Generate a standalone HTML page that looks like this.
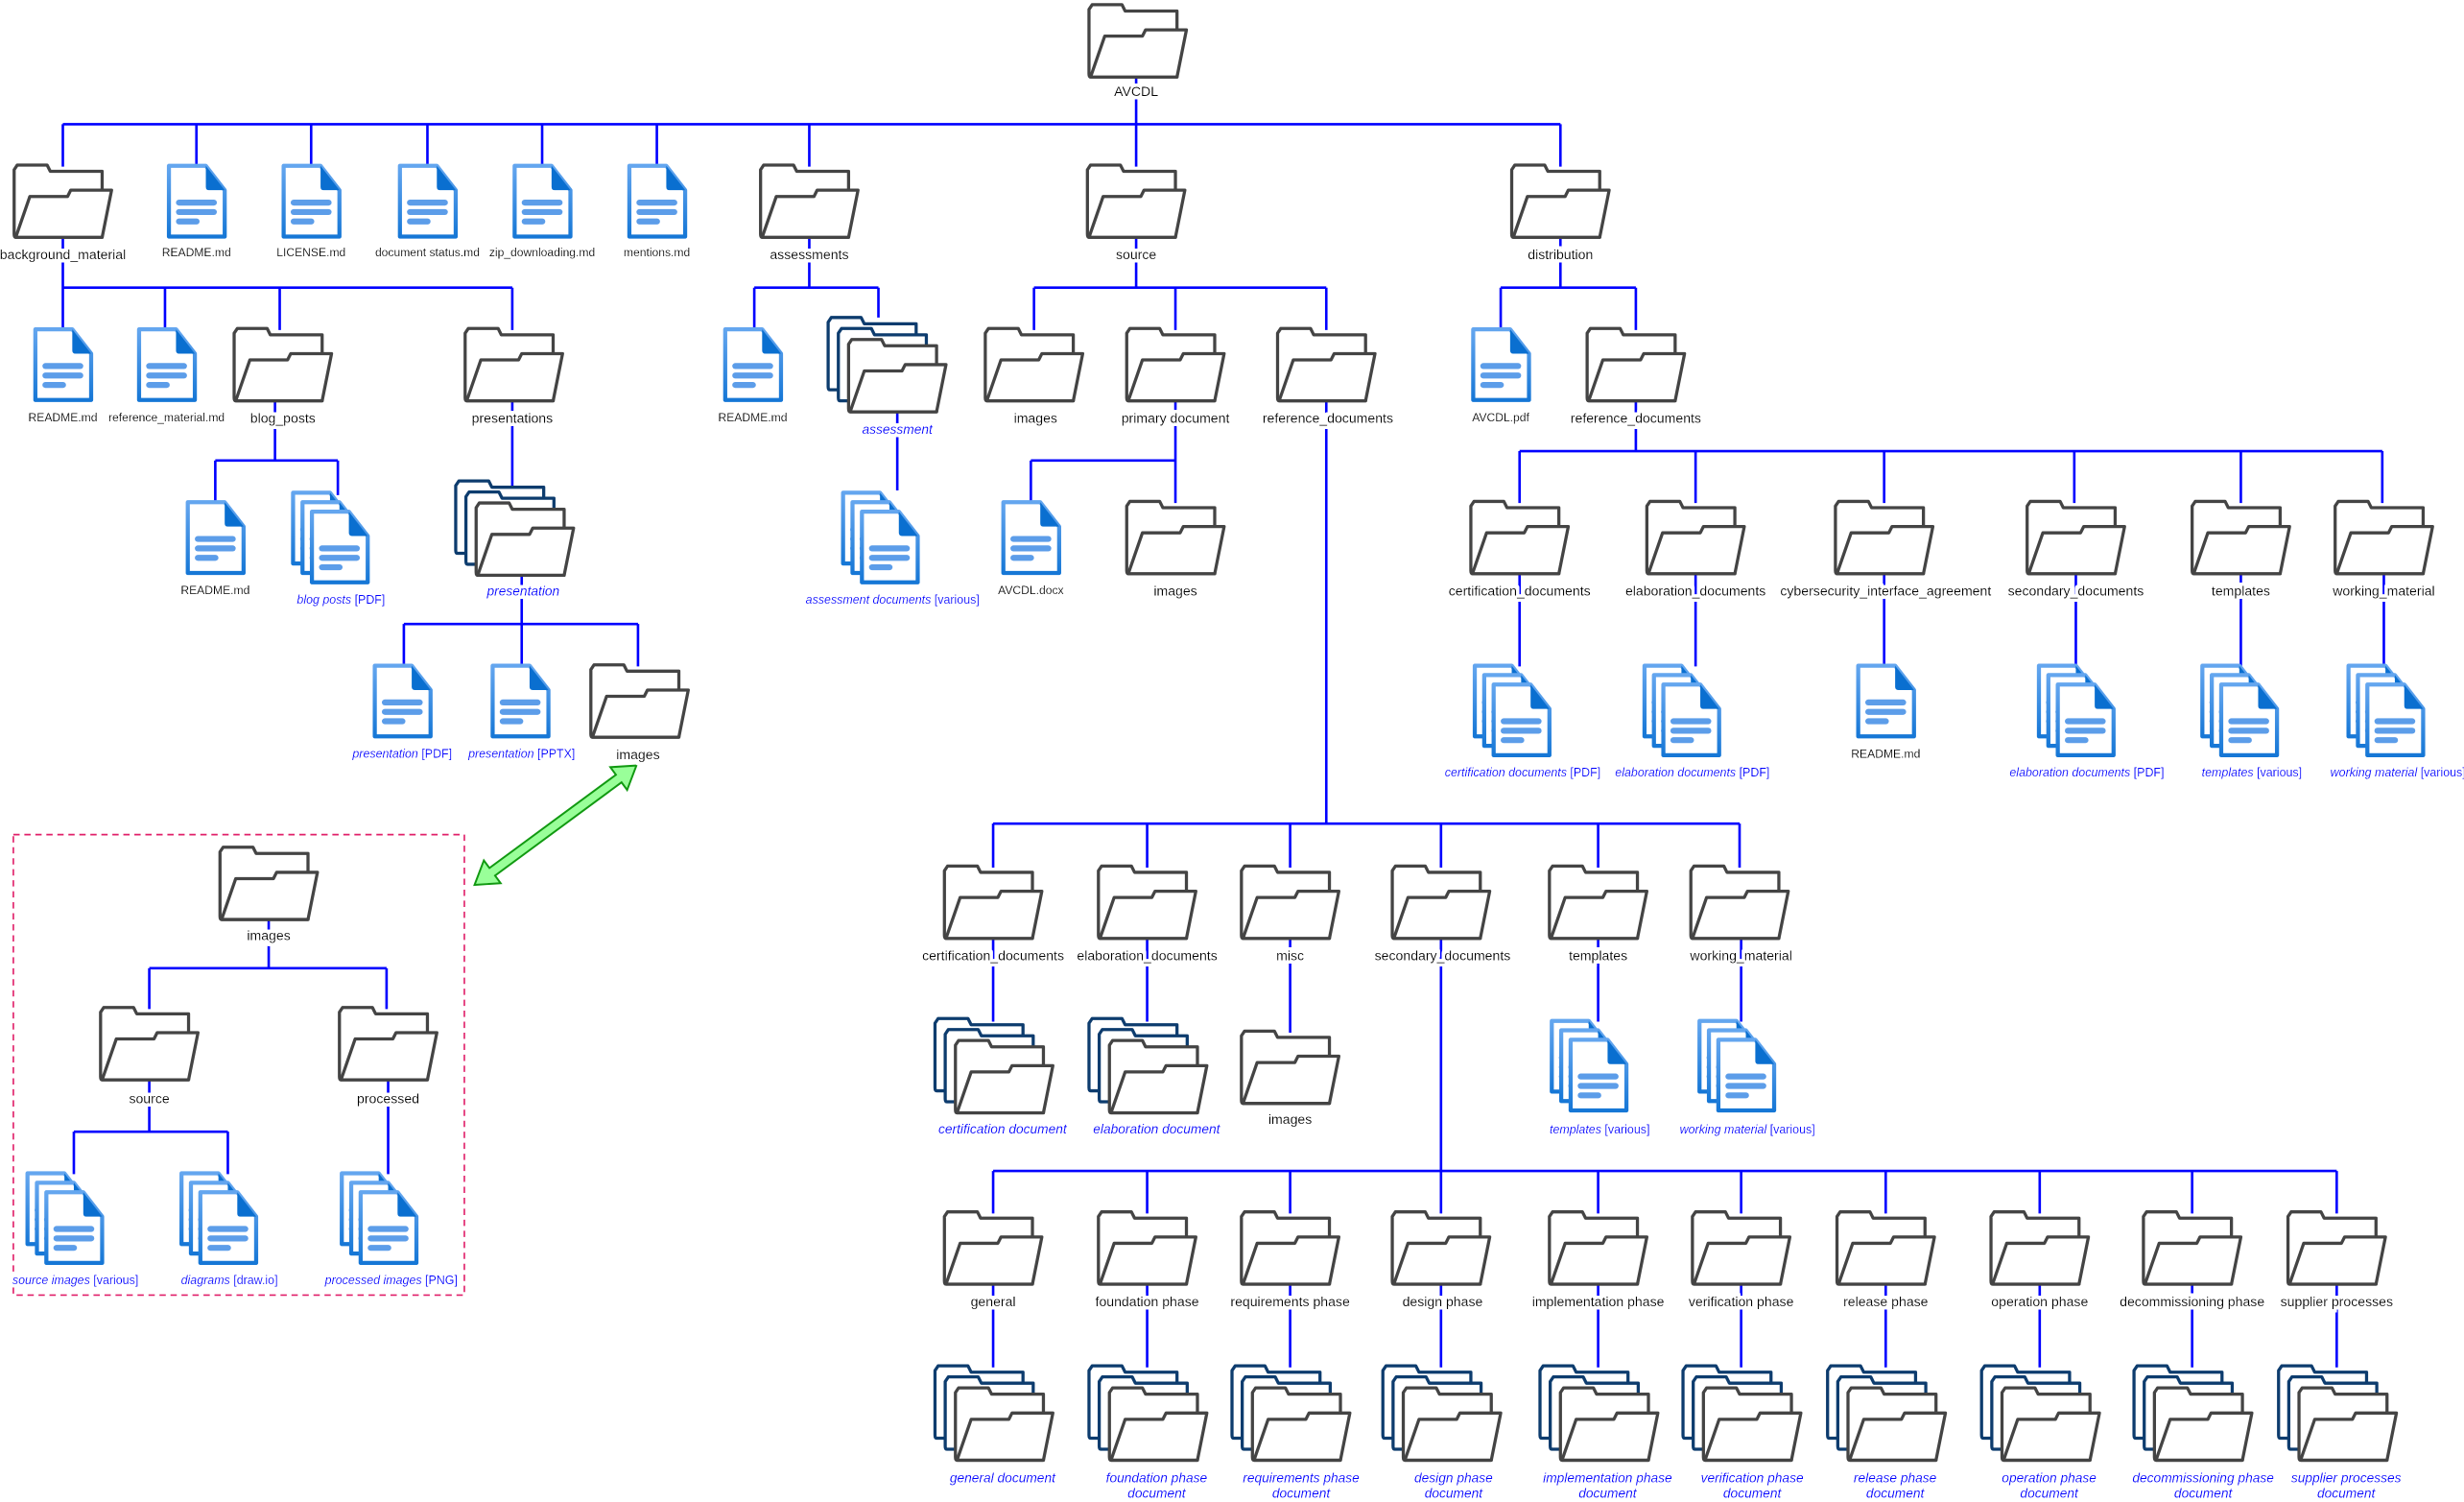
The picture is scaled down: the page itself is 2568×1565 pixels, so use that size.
<!DOCTYPE html>
<html><head><meta charset="utf-8"><style>
html,body{margin:0;padding:0;background:#fff;}
svg{display:block;}
text{font-family:"Liberation Sans",Arial,sans-serif;filter:url(#halo);}
.fl{font-size:8.6px;fill:#000;text-anchor:middle;}
.dl{font-size:7.4px;fill:#000;text-anchor:middle;}
.bl{font-size:7.6px;fill:#0000ff;text-anchor:middle;}
.bf{font-size:8.4px;fill:#0000ff;text-anchor:middle;font-style:italic;}
.it{font-style:italic;}
</style></head><body>
<svg width="2568" height="1565" viewBox="0 0 1568 955.6" preserveAspectRatio="none" xmlns="http://www.w3.org/2000/svg">
<defs>
<filter id="halo" x="-20%" y="-50%" width="140%" height="200%">
<feMorphology in="SourceAlpha" operator="dilate" radius="2.2" result="d"/>
<feFlood flood-color="#fff" result="w"/>
<feComposite in="w" in2="d" operator="in" result="bg"/>
<feMerge><feMergeNode in="bg"/><feMergeNode in="SourceGraphic"/></feMerge>
</filter>
<linearGradient id="dg" x1="0" y1="0" x2="0" y2="1"><stop offset="0" stop-color="#64a6ef"/><stop offset="1" stop-color="#1677d6"/></linearGradient>
<g id="fo">
<path d="M2,47 Q1,47 1,45 L1,4 L3,1 L22,1 L24,5 L57,5 L57,47 Z" fill="#fff" stroke="#444" stroke-width="2" stroke-linejoin="round"/>
<path d="M2,47 L11,21 L35,21 L37,17 L63,17 L57,47 Z" fill="#fff" stroke="#444" stroke-width="2" stroke-linejoin="round"/>
</g>
<path id="fb" d="M2,47 Q1,47 1,45 L1,4 L3,1 L22,1 L24,5 L57,5 L57,47 Z" fill="#fff" stroke="#0d3c6e" stroke-width="2" stroke-linejoin="round"/>
<g id="mf"><use href="#fb"/><use href="#fb" x="6.5" y="7"/><use href="#fo" x="13" y="14"/></g>
<g id="do">
<path d="M1.5,1.5 L25,1.5 L37,17 L37,46.5 L1.5,46.5 Z" fill="#fff" stroke="url(#dg)" stroke-width="2.6" stroke-linejoin="round"/>
<path d="M25,1.5 L25,15 Q25,17 27,17 L37,17 Z" fill="#0a6fd0"/>
<rect x="6" y="23" width="26" height="3.8" rx="1.9" fill="#5c9de9"/>
<rect x="6" y="29" width="26" height="3.8" rx="1.9" fill="#5c9de9"/>
<rect x="6" y="35" width="15" height="3.8" rx="1.9" fill="#5c9de9"/>
</g>
<g id="md"><use href="#do"/><use href="#do" x="6" y="6"/><use href="#do" x="12" y="12"/></g>
</defs>

<g stroke="#0000ff" stroke-width="1.6" fill="none">
<path d="M723,40 V79 M40,79 H993 M40,79 V106 M125,79 V106 M198,79 V106 M272,79 V106 M345,79 V106 M418,79 V106 M515,79 V106 M723,79 V106 M993,79 V106"/>
<path d="M40,140 V183 M40,183 H326 M40,183 V210 M105,183 V210 M178,183 V210 M326,183 V210"/>
<path d="M175,245 V293 M137,293 H215 M137,293 V320 M215,293 V315"/>
<path d="M326,245 V312 M332,360 V397 M257,397 H406 M257,397 V424 M332,397 V424 M406,397 V424"/>
<path d="M515,140 V183 M480,183 H559 M480,183 V210 M559,183 V202 M571,260 V312"/>
<path d="M723,140 V183 M658,183 H844 M658,183 V210 M748,183 V210 M844,183 V210"/>
<path d="M748,245 V293 M656,293 H748 M656,293 V320 M748,293 V320"/>
<path d="M844,245 V524 M632,524 H1107 M632,524 V552 M730,524 V552 M821,524 V552 M917,524 V552 M1017,524 V552 M1107,524 V552"/>
<path d="M632,590 V650 M730,590 V650 M821,590 V657 M1017,590 V650 M1108,590 V650"/>
<path d="M917,590 V745 M632,745 H1487 M632,745 V772 M730,745 V772 M821,745 V772 M917,745 V772 M1017,745 V772 M1108,745 V772 M1200,745 V772 M1298,745 V772 M1395,745 V772 M1487,745 V772"/>
<path d="M632,810 V870 M730,810 V870 M821,810 V870 M917,810 V870 M1017,810 V870 M1108,810 V870 M1200,810 V870 M1298,810 V870 M1395,810 V870 M1487,810 V870"/>
<path d="M993,140 V183 M955,183 H1041 M955,183 V210 M1041,183 V210"/>
<path d="M1041,245 V287 M967,287 H1516 M967,287 V320 M1079,287 V320 M1199,287 V320 M1320,287 V320 M1426,287 V320 M1516,287 V320"/>
<path d="M967,360 V424 M1079,360 V424 M1199,360 V424 M1321,360 V424 M1426,360 V424 M1517,360 V424"/>
<path d="M171,575 V616 M95,616 H246 M95,616 V642 M246,616 V642 M95,680 V720 M47,720 H145 M47,720 V747 M145,720 V747 M247,680 V747"/>
</g>

<rect x="8.5" y="531" width="287" height="293" fill="none" stroke="#e0206a" stroke-width="1" stroke-dasharray="4,3"/>
<g transform="translate(353.5,525) rotate(-36.4)">
<polygon points="-64,0 -50,-9 -50,-3 50,-3 50,-9 64,0 50,9 50,3 -50,3 -50,9" fill="#99ff99" stroke="#119911" stroke-width="1.2"/>
</g>

<use href="#fo" x="692" y="2"/>
<use href="#fo" x="8" y="104"/>
<use href="#do" x="106" y="104"/><use href="#do" x="179" y="104"/><use href="#do" x="253" y="104"/><use href="#do" x="326" y="104"/><use href="#do" x="399" y="104"/>
<use href="#fo" x="483" y="104"/><use href="#fo" x="691" y="104"/><use href="#fo" x="961" y="104"/>

<use href="#do" x="21" y="208"/><use href="#do" x="87" y="208"/>
<use href="#fo" x="148" y="208"/><use href="#fo" x="295" y="208"/>
<use href="#do" x="460" y="208"/><use href="#mf" x="526" y="201"/>
<use href="#fo" x="626" y="208"/><use href="#fo" x="716" y="208"/><use href="#fo" x="812" y="208"/>
<use href="#do" x="936" y="208"/><use href="#fo" x="1009" y="208"/>

<use href="#do" x="118" y="318"/><use href="#md" x="185" y="312"/>
<use href="#mf" x="289" y="305"/>
<use href="#md" x="535" y="312"/>
<use href="#do" x="637" y="318"/><use href="#fo" x="716" y="318"/>
<use href="#fo" x="935" y="318"/><use href="#fo" x="1047" y="318"/><use href="#fo" x="1167" y="318"/><use href="#fo" x="1289" y="318"/><use href="#fo" x="1394" y="318"/><use href="#fo" x="1485" y="318"/>

<use href="#do" x="237" y="422"/><use href="#do" x="312" y="422"/><use href="#fo" x="375" y="422"/>
<use href="#md" x="937" y="422"/><use href="#md" x="1045" y="422"/><use href="#do" x="1181" y="422"/><use href="#md" x="1296" y="422"/><use href="#md" x="1400" y="422"/><use href="#md" x="1493" y="422"/>

<use href="#fo" x="600" y="550"/><use href="#fo" x="698" y="550"/><use href="#fo" x="789" y="550"/><use href="#fo" x="885" y="550"/><use href="#fo" x="985" y="550"/><use href="#fo" x="1075" y="550"/>
<use href="#mf" x="594" y="647"/><use href="#mf" x="692" y="647"/><use href="#fo" x="789" y="655"/><use href="#md" x="986" y="648"/><use href="#md" x="1080" y="648"/>

<use href="#fo" x="600" y="770"/><use href="#fo" x="698" y="770"/><use href="#fo" x="789" y="770"/><use href="#fo" x="885" y="770"/><use href="#fo" x="985" y="770"/><use href="#fo" x="1076" y="770"/><use href="#fo" x="1168" y="770"/><use href="#fo" x="1266" y="770"/><use href="#fo" x="1363" y="770"/><use href="#fo" x="1455" y="770"/>
<use href="#mf" x="594" y="868"/><use href="#mf" x="692" y="868"/><use href="#mf" x="783" y="868"/><use href="#mf" x="879" y="868"/><use href="#mf" x="979" y="868"/><use href="#mf" x="1070" y="868"/><use href="#mf" x="1162" y="868"/><use href="#mf" x="1260" y="868"/><use href="#mf" x="1357" y="868"/><use href="#mf" x="1449" y="868"/>

<use href="#fo" x="139" y="538"/><use href="#fo" x="63" y="640"/><use href="#fo" x="215" y="640"/>
<use href="#md" x="16" y="745"/><use href="#md" x="114" y="745"/><use href="#md" x="216" y="745"/>

<text class="fl" x="723" y="61">AVCDL</text>
<text class="fl" x="40" y="165">background_material</text>
<text class="dl" x="125" y="163">README.md</text>
<text class="dl" x="198" y="163">LICENSE.md</text>
<text class="dl" x="272" y="163">document status.md</text>
<text class="dl" x="345" y="163">zip_downloading.md</text>
<text class="dl" x="418" y="163">mentions.md</text>
<text class="fl" x="515" y="165">assessments</text>
<text class="fl" x="723" y="165">source</text>
<text class="fl" x="993" y="165">distribution</text>

<text class="dl" x="40" y="268">README.md</text>
<text class="dl" x="106" y="268">reference_material.md</text>
<text class="fl" x="180" y="269">blog_posts</text>
<text class="fl" x="326" y="269">presentations</text>
<text class="dl" x="479" y="268">README.md</text>
<text class="bf" x="571" y="276">assessment</text>
<text class="fl" x="659" y="269">images</text>
<text class="fl" x="748" y="269">primary document</text>
<text class="fl" x="845" y="269">reference_documents</text>
<text class="dl" x="955" y="268">AVCDL.pdf</text>
<text class="fl" x="1041" y="269">reference_documents</text>

<text class="dl" x="137" y="378">README.md</text>
<text class="bl" x="217" y="384"><tspan class="it">blog posts</tspan> [PDF]</text>
<text class="bf" x="333" y="379">presentation</text>
<text class="bl" x="568" y="384"><tspan class="it">assessment documents</tspan> [various]</text>
<text class="dl" x="656" y="378">AVCDL.docx</text>
<text class="fl" x="748" y="379">images</text>
<text class="fl" x="967" y="379">certification_documents</text>
<text class="fl" x="1079" y="379">elaboration_documents</text>
<text class="fl" x="1200" y="379">cybersecurity_interface_agreement</text>
<text class="fl" x="1321" y="379">secondary_documents</text>
<text class="fl" x="1426" y="379">templates</text>
<text class="fl" x="1517" y="379">working_material</text>

<text class="bl" x="256" y="482"><tspan class="it">presentation</tspan> [PDF]</text>
<text class="bl" x="332" y="482"><tspan class="it">presentation</tspan> [PPTX]</text>
<text class="fl" x="406" y="483">images</text>
<text class="bl" x="969" y="494"><tspan class="it">certification documents</tspan> [PDF]</text>
<text class="bl" x="1077" y="494"><tspan class="it">elaboration documents</tspan> [PDF]</text>
<text class="dl" x="1200" y="482">README.md</text>
<text class="bl" x="1328" y="494"><tspan class="it">elaboration documents</tspan> [PDF]</text>
<text class="bl" x="1433" y="494"><tspan class="it">templates</tspan> [various]</text>
<text class="bl" x="1526" y="494"><tspan class="it">working material</tspan> [various]</text>

<text class="fl" x="632" y="611">certification_documents</text>
<text class="fl" x="730" y="611">elaboration_documents</text>
<text class="fl" x="821" y="611">misc</text>
<text class="fl" x="918" y="611">secondary_documents</text>
<text class="fl" x="1017" y="611">templates</text>
<text class="fl" x="1108" y="611">working_material</text>
<text class="bf" x="638" y="721">certification document</text>
<text class="bf" x="736" y="721">elaboration document</text>
<text class="fl" x="821" y="715">images</text>
<text class="bl" x="1018" y="721"><tspan class="it">templates</tspan> [various]</text>
<text class="bl" x="1112" y="721"><tspan class="it">working material</tspan> [various]</text>

<text class="fl" x="632" y="831">general</text>
<text class="fl" x="730" y="831">foundation phase</text>
<text class="fl" x="821" y="831">requirements phase</text>
<text class="fl" x="918" y="831">design phase</text>
<text class="fl" x="1017" y="831">implementation phase</text>
<text class="fl" x="1108" y="831">verification phase</text>
<text class="fl" x="1200" y="831">release phase</text>
<text class="fl" x="1298" y="831">operation phase</text>
<text class="fl" x="1395" y="831">decommissioning phase</text>
<text class="fl" x="1487" y="831">supplier processes</text>

<text class="bf" x="638" y="943">general document</text>
<text class="bf" x="736" y="943">foundation phase</text><text class="bf" x="736" y="953">document</text>
<text class="bf" x="828" y="943">requirements phase</text><text class="bf" x="828" y="953">document</text>
<text class="bf" x="925" y="943">design phase</text><text class="bf" x="925" y="953">document</text>
<text class="bf" x="1023" y="943">implementation phase</text><text class="bf" x="1023" y="953">document</text>
<text class="bf" x="1115" y="943">verification phase</text><text class="bf" x="1115" y="953">document</text>
<text class="bf" x="1206" y="943">release phase</text><text class="bf" x="1206" y="953">document</text>
<text class="bf" x="1304" y="943">operation phase</text><text class="bf" x="1304" y="953">document</text>
<text class="bf" x="1402" y="943">decommissioning phase</text><text class="bf" x="1402" y="953">document</text>
<text class="bf" x="1493" y="943">supplier processes</text><text class="bf" x="1493" y="953">document</text>

<text class="fl" x="171" y="598">images</text>
<text class="fl" x="95" y="702">source</text>
<text class="fl" x="247" y="702">processed</text>
<text class="bl" x="48" y="817"><tspan class="it">source images</tspan> [various]</text>
<text class="bl" x="146" y="817"><tspan class="it">diagrams</tspan> [draw.io]</text>
<text class="bl" x="249" y="817"><tspan class="it">processed images</tspan> [PNG]</text>
</svg>
</body></html>
